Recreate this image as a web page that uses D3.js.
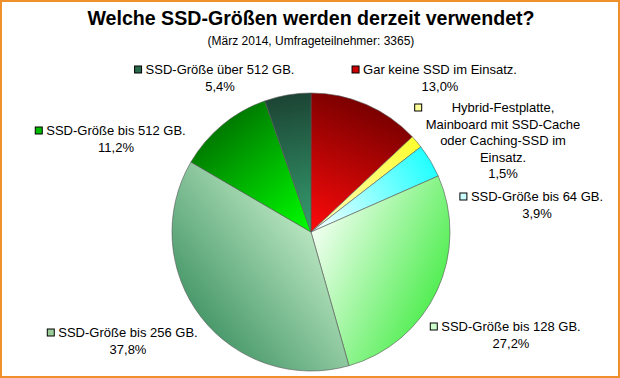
<!DOCTYPE html>
<html>
<head>
<meta charset="utf-8">
<script src="https://cdn.jsdelivr.net/npm/d3@7"></script>
<style>
  html, body { margin: 0; padding: 0; background: #fff; }
  svg { display: block; }
  text { font-family: "Liberation Sans", Arial, sans-serif; fill: #000; }
</style>
</head>
<body>
<div id="chart"></div>
<script>
// data
var categories = ["Gar keine SSD im Einsatz.",
                  "Hybrid-Festplatte,|Mainboard mit SSD-Cache|oder Caching-SSD im|Einsatz.",
                  "SSD-Größe bis 64 GB.",
                  "SSD-Größe bis 128 GB.",
                  "SSD-Größe bis 256 GB.",
                  "SSD-Größe bis 512 GB.",
                  "SSD-Größe über 512 GB."];
var values = [13.0, 1.5, 3.9, 27.2, 37.8, 11.2, 5.4];
var valueLabels = ["13,0%", "1,5%", "3,9%", "27,2%", "37,8%", "11,2%", "5,4%"];

// styling / layout
var innerColors = ["#ff0a0a", "#ffffc8", "#ffffff", "#f2fff2", "#b6e4be", "#00ff00", "#35a070"];
var outerColors = ["#7a0000", "#ffff30", "#22ffff", "#55ee55", "#4a9a6c", "#007a00", "#1c4434"];
var keyColors   = ["#cc0000", "#ffff99", "#ccffff", "#ccffcc", "#99cc99", "#00bb00", "#2a6a4c"];
// label anchors: centre x of the text block, baseline of first line
var labelPos = [[440, 74], [503, 112], [537, 201], [511, 331], [128, 337], [116, 135], [220, 74]];

var W = 620, H = 378;
var cx = 311, cy = 232, r = 139;

var svg = d3.select("#chart").append("svg").attr("width", W).attr("height", H);

// orange frame
svg.append("rect").attr("x", 1).attr("y", 1).attr("width", W - 2).attr("height", H - 2)
    .attr("fill", "#fff").attr("stroke", "#f0902a").attr("stroke-width", 2);

svg.append("text").attr("x", 311).attr("y", 25).attr("text-anchor", "middle")
    .style("font-size", "19.6px").style("font-weight", "bold")
    .text("Welche SSD-Größen werden derzeit verwendet?");
svg.append("text").attr("x", 311).attr("y", 45).attr("text-anchor", "middle")
    .style("font-size", "12px")
    .text("(März 2014, Umfrageteilnehmer: 3365)");

var pie = d3.pie().sort(null).value(function(d) { return d; });
var arcs = pie(values);
var arc = d3.arc().innerRadius(0).outerRadius(r);

// one gradient per slice, running from the centre out along the slice bisector
var defs = svg.append("defs");
arcs.forEach(function(a, i) {
    var mid = (a.startAngle + a.endAngle) / 2;
    var g = defs.append("linearGradient").attr("id", "grad" + i)
        .attr("gradientUnits", "userSpaceOnUse")
        .attr("x1", 0).attr("y1", 0)
        .attr("x2", Math.sin(mid) * r).attr("y2", -Math.cos(mid) * r);
    g.append("stop").attr("offset", "0").attr("stop-color", innerColors[i]);
    g.append("stop").attr("offset", "1").attr("stop-color", outerColors[i]);
});

var pieG = svg.append("g").attr("transform", "translate(" + cx + "," + cy + ")");
pieG.selectAll("path").data(arcs).enter().append("path")
    .attr("d", arc)
    .attr("fill", function(d, i) { return "url(#grad" + i + ")"; })
    .attr("stroke", "#555").attr("stroke-width", 0.6);

// labels
var lineH = 16.6;
categories.forEach(function(c, i) {
    var lines = c.split("|").concat([valueLabels[i]]);
    var x = labelPos[i][0], y = labelPos[i][1];
    var g = svg.append("g");
    var maxW = 0;
    lines.forEach(function(t, j) {
        var tx = g.append("text").attr("x", x).attr("y", y + j * lineH)
            .attr("text-anchor", "middle").style("font-size", "13px").text(t);
        if (j < lines.length - 1) maxW = Math.max(maxW, tx.node().getComputedTextLength());
    });
    g.append("rect")
        .attr("x", x - maxW / 2 - 11).attr("y", y - 8)
        .attr("width", 7).attr("height", 7)
        .attr("fill", keyColors[i]).attr("stroke", "#000").attr("stroke-width", 1);
});
</script>
</body>
</html>
